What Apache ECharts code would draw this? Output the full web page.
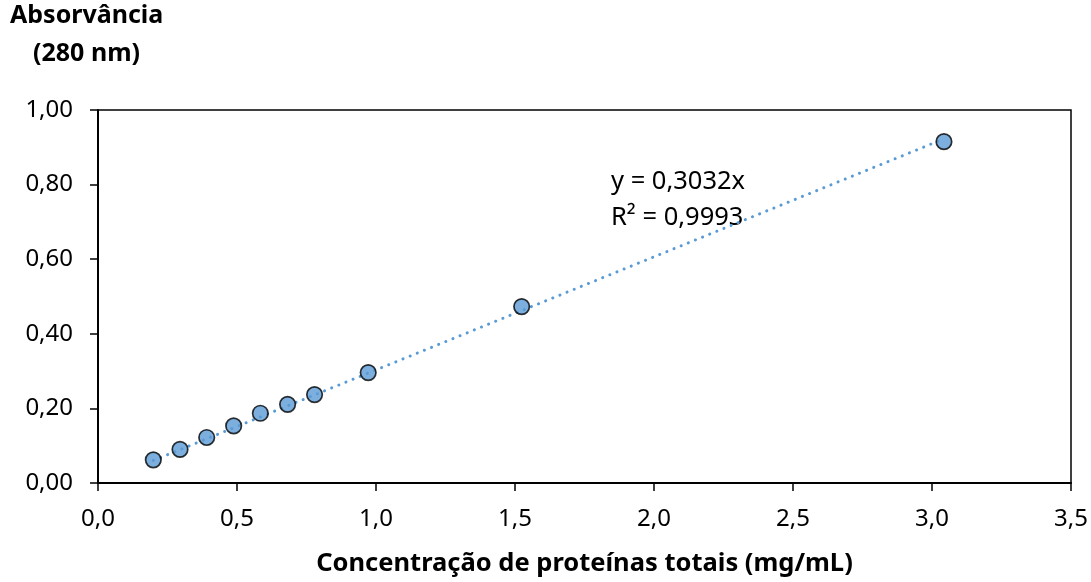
<!DOCTYPE html>
<html><head><meta charset="utf-8">
<script src="https://cdn.jsdelivr.net/npm/echarts@6/dist/echarts.min.js"></script>
<style>html,body{margin:0;padding:0;background:#fff}#c{width:1091px;height:582px}</style>
</head><body><div id="c"></div>
<script>
const concentration = [0.199, 0.295, 0.391, 0.488, 0.584, 0.682, 0.779, 0.972, 1.524, 3.043];
const absorbance = [0.062, 0.090, 0.122, 0.153, 0.187, 0.211, 0.237, 0.296, 0.473, 0.915];
const slope = 0.3032;
const r2 = 0.9993;
const yTitle = ['Absorvância', '(280 nm)'];
const xTitle = 'Concentração de proteínas totais (mg/mL)';
const FONT = 'Noto Sans';

const points = concentration.map((x, i) => [x, absorbance[i]]);
const xMin = Math.min(...concentration), xMax = Math.max(...concentration);
const trend = [[xMin, slope * xMin], [xMax, slope * xMax]];
const fmt = (v, d) => v.toFixed(d).replace('.', ',');

const chart = echarts.init(document.getElementById('c'), null, {renderer: 'canvas'});
chart.setOption({
  animation: false,
  backgroundColor: '#fff',
  grid: {left: 98, right: 20, top: 110, bottom: 97, show: true, borderColor: '#000', borderWidth: 1.5},
  xAxis: {
    type: 'value', min: 0, max: 3.5, interval: 0.5,
    name: xTitle, nameLocation: 'middle', nameGap: 68,
    nameTextStyle: {fontFamily: FONT, fontWeight: 'bold', fontSize: 25.5, color: '#000'},
    axisLine: {lineStyle: {color: '#000', width: 2}},
    axisTick: {show: true, length: 8, lineStyle: {color: '#000', width: 1.5}},
    axisLabel: {fontFamily: FONT, fontSize: 24, color: '#000', margin: 24, formatter: v => fmt(v, 1)},
    splitLine: {show: false}
  },
  yAxis: {
    type: 'value', min: 0, max: 1, interval: 0.2,
    axisLine: {show: true, lineStyle: {color: '#000', width: 2}},
    axisTick: {show: true, length: 8, lineStyle: {color: '#000', width: 1.5}},
    axisLabel: {fontFamily: FONT, fontSize: 24, color: '#000', margin: 25, formatter: v => fmt(v, 2)},
    splitLine: {show: false}
  },
  graphic: [
    {type: 'text', left: 10, top: 3, style: {text: yTitle[0], font: 'bold 25px "Noto Sans"', fill: '#000'}},
    {type: 'text', left: 33, top: 41, style: {text: yTitle[1], font: 'bold 25px "Noto Sans"', fill: '#000'}},
    {type: 'text', left: 611, top: 169, style: {text: 'y = ' + fmt(slope, 4) + 'x', font: '25.5px "Noto Sans"', fill: '#000'}},
    {type: 'text', left: 611, top: 205, style: {text: 'R² = ' + fmt(r2, 4), font: '25.5px "Noto Sans"', fill: '#000'}}
  ],
  series: [
    {type: 'line', data: trend, symbol: 'none', z: 1,
     lineStyle: {color: '#5b9bd5', width: 3, type: [0.1, 7.6], cap: 'round'}},
    {type: 'scatter', data: points, symbol: 'circle', symbolSize: 15.5, z: 3,
     itemStyle: {color: '#5b9bd5', borderColor: '#000', borderWidth: 1.7}}
  ]
});
</script></body></html>
